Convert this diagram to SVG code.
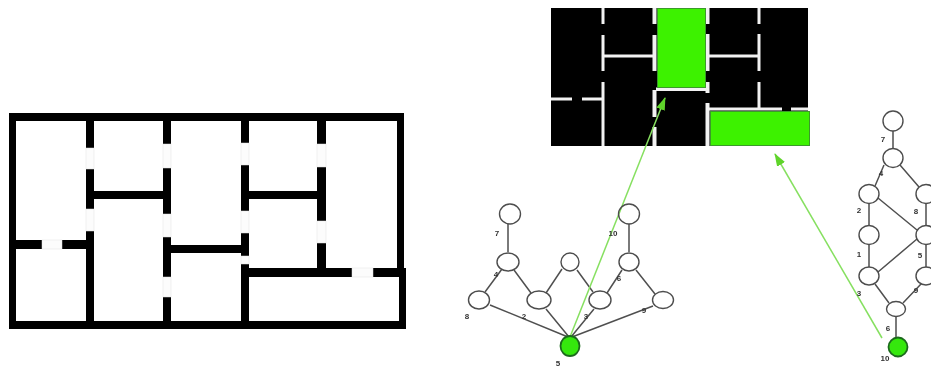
<svg xmlns="http://www.w3.org/2000/svg" width="931" height="367" viewBox="0 0 931 367">
<style>
.wall{fill:#000}
.door{fill:#fcfcfc;stroke:#e2e2e2;stroke-width:.5}
.room{fill:#3ef200;stroke:#3a9a2a;stroke-width:1}
.sep{fill:#f2f2f2}
.n{fill:#fff;stroke:#4d4d4d;stroke-width:1.4}
.g{fill:#35e80c;stroke:#1f6b1f;stroke-width:1.8}
.e{stroke:#505050;stroke-width:1.5;fill:none}
.a{stroke:#86e060;stroke-width:1.5;fill:none}
.soft{filter:url(#soft)}
text{font-family:"Liberation Sans",Arial,sans-serif;font-size:8px;font-weight:bold;fill:#333;text-anchor:middle}
</style>
<defs>
<filter id="soft" x="-5%" y="-5%" width="110%" height="110%"><feGaussianBlur stdDeviation="0.45"/></filter>
<marker id="ah" markerWidth="14" markerHeight="10" refX="12" refY="5" orient="auto" markerUnits="userSpaceOnUse"><path d="M0 0.500L13 5L0 9.500Z" fill="#5fd42a"/></marker>
</defs>
<rect width="931" height="367" fill="#fff"/>

<g id="floor-plan" class="soft">
<path class="wall" fill-rule="evenodd" d="M9 113H404V268H406V329H9ZM16 121V321H399V277H397V121Z"/>
<rect class="wall" x="86" y="121" width="8" height="200"/>
<rect class="wall" x="16" y="240" width="70" height="9"/>
<rect class="wall" x="94" y="191" width="69" height="8"/>
<rect class="wall" x="163" y="121" width="8" height="200"/>
<rect class="wall" x="171" y="245" width="70" height="8"/>
<rect class="wall" x="241" y="121" width="8" height="200"/>
<rect class="wall" x="249" y="191" width="68" height="8"/>
<rect class="wall" x="317" y="121" width="9" height="147"/>
<rect class="wall" x="249" y="268" width="155" height="9"/>
<rect class="door" x="86" y="148" width="8" height="21"/>
<rect class="door" x="86" y="209" width="8" height="22"/>
<rect class="door" x="42" y="240" width="20" height="9"/>
<rect class="door" x="163" y="144" width="8" height="24"/>
<rect class="door" x="163" y="214" width="8" height="23"/>
<rect class="door" x="163" y="277" width="8" height="20"/>
<rect class="door" x="241" y="143" width="8" height="22"/>
<rect class="door" x="241" y="211" width="8" height="22"/>
<rect class="door" x="241" y="256" width="8" height="8"/>
<rect class="door" x="317" y="144" width="9" height="23"/>
<rect class="door" x="317" y="221" width="9" height="22"/>
<rect class="door" x="352" y="268" width="21" height="9"/>
</g>

<g id="dual-map" class="soft">
<rect class="wall" x="551" y="8" width="257" height="138"/>
<rect class="sep" x="601.500" y="8" width="3" height="16"/>
<rect class="sep" x="601.500" y="35" width="3" height="36"/>
<rect class="sep" x="601.500" y="82" width="3" height="64"/>
<rect class="sep" x="551" y="97.500" width="21" height="3"/>
<rect class="sep" x="582" y="97.500" width="20" height="3"/>
<rect class="sep" x="604" y="54.500" width="49" height="3"/>
<rect class="sep" x="652.500" y="8" width="4" height="16"/>
<rect class="sep" x="652.500" y="35" width="4" height="36"/>
<rect class="sep" x="652.500" y="90" width="4" height="27"/>
<rect class="sep" x="652.500" y="127" width="4" height="19"/>
<rect class="sep" x="656" y="87.500" width="53" height="3.500"/>
<rect class="sep" x="705.500" y="8" width="4" height="16"/>
<rect class="sep" x="705.500" y="34" width="4" height="37"/>
<rect class="sep" x="705.500" y="82" width="4" height="11"/>
<rect class="sep" x="705.500" y="103" width="4" height="43"/>
<rect class="sep" x="709" y="54.500" width="49" height="3"/>
<rect class="sep" x="757.500" y="8" width="3" height="16"/>
<rect class="sep" x="757.500" y="34" width="3" height="37"/>
<rect class="sep" x="757.500" y="82" width="3" height="26"/>
<rect class="sep" x="708" y="107.500" width="74" height="3"/>
<rect class="sep" x="791" y="107.500" width="17" height="3"/>
<rect class="room" x="657.500" y="8.500" width="48" height="79"/>
<rect class="room" x="710.500" y="111.500" width="99" height="34"/>
</g>

<g id="connectors" class="soft">
<path class="e" d="M508 224V252M502 269L485 292M514 270L531 293M562 269L546 293M577 270L593 292M607 293L622 270M636 270L655 294M629 224V252"/>
<path class="e" d="M490 305L568 337M546 309L569 337M594 309L571 337M653 306L572 337"/>
<path class="e" d="M893 131V149M884 165L875 186M900 165L919 187M869 203V226M878 198L917 230M869 244V267M878 272L917 239M926 203V226M926 244V267M875 284L889 303M921 284L903 303M896 316V338"/>
<path class="a" marker-end="url(#ah)" d="M570 337L665 98"/>
<path class="a" marker-end="url(#ah)" d="M882 338L775 154"/>
</g>

<g class="soft">
<g id="a7"><ellipse class="n" cx="510" cy="214" rx="10.500" ry="10"/></g>
<g id="a4"><ellipse class="n" cx="508" cy="262" rx="11" ry="9"/></g>
<g id="a-mid"><ellipse class="n" cx="570" cy="262" rx="9" ry="9"/></g>
<g id="a10"><ellipse class="n" cx="629" cy="214" rx="10.500" ry="10" fill-opacity="0"/></g>
<g id="a6"><ellipse class="n" cx="629" cy="262" rx="10" ry="9"/></g>
<g id="a8"><ellipse class="n" cx="479" cy="300" rx="10.500" ry="9"/></g>
<g id="a2"><ellipse class="n" cx="539" cy="300" rx="12" ry="9"/></g>
<g id="a3"><ellipse class="n" cx="600" cy="300" rx="11" ry="9" fill-opacity="0"/></g>
<g id="a9"><ellipse class="n" cx="663" cy="300" rx="10.500" ry="8.500"/></g>
<g id="a5"><ellipse class="g" cx="570" cy="346" rx="9.500" ry="10"/></g>
<g id="b7"><ellipse class="n" cx="893" cy="121" rx="10" ry="10"/></g>
<g id="b4"><ellipse class="n" cx="893" cy="158" rx="10" ry="9.500"/></g>
<g id="b2"><ellipse class="n" cx="869" cy="194" rx="10" ry="9.500"/></g>
<g id="b8"><ellipse class="n" cx="926" cy="194" rx="10" ry="9.500"/></g>
<g id="b1"><ellipse class="n" cx="869" cy="235" rx="10" ry="9.500"/></g>
<g id="b5"><ellipse class="n" cx="926" cy="235" rx="10" ry="9.500"/></g>
<g id="b3"><ellipse class="n" cx="869" cy="276" rx="10" ry="9"/></g>
<g id="b9"><ellipse class="n" cx="926" cy="276" rx="10" ry="9"/></g>
<g id="b6"><ellipse class="n" cx="896" cy="309" rx="9.500" ry="7.500"/></g>
<g id="b10"><ellipse class="g" cx="898" cy="347" rx="9.500" ry="9.500"/></g>
</g>

<g id="labels" class="soft">
<text x="497" y="236">7</text>
<text x="496" y="277">4</text>
<text x="467" y="319">8</text>
<text x="524" y="319">2</text>
<text x="586" y="319">3</text>
<text x="619" y="281">6</text>
<text x="644" y="313">9</text>
<text x="613" y="236">10</text>
<text x="558" y="366">5</text>
<text x="883" y="142">7</text>
<text x="881" y="176">4</text>
<text x="859" y="213">2</text>
<text x="916" y="214">8</text>
<text x="859" y="257">1</text>
<text x="920" y="258">5</text>
<text x="859" y="296">3</text>
<text x="916" y="293">9</text>
<text x="888" y="331">6</text>
<text x="885" y="361">10</text>
</g>
</svg>
